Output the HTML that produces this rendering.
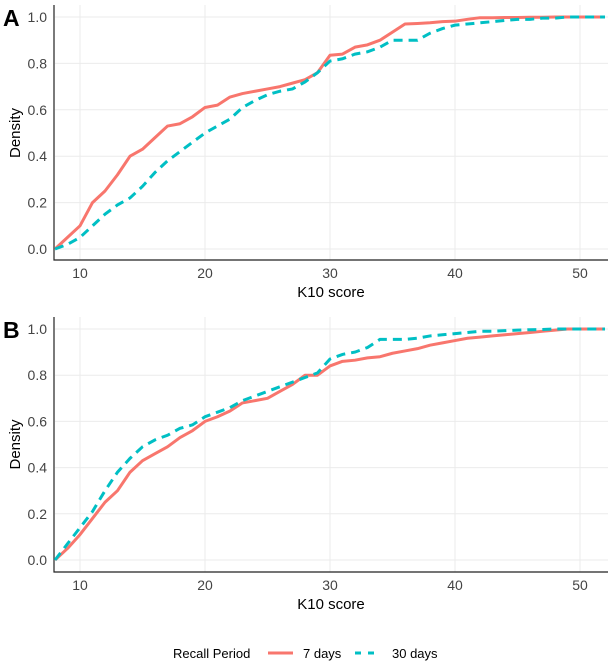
<!DOCTYPE html>
<html><head><meta charset="utf-8">
<style>
body{margin:0;background:#fff;}
svg{display:block;font-family:"Liberation Sans",Arial,sans-serif;}
</style></head>
<body>
<svg id="chart" width="614" height="667" viewBox="0 0 614 667"></svg>
<script>
const xs = [8,9,10,11,12,13,14,15,16,17,18,19,20,21,22,23,24,25,26,27,28,29,30,31,32,33,34,35,36,37,38,39,40,41,42,43,44,45,46,47,48,49,50,51,52];
const a7 = [0,0.05,0.10,0.20,0.25,0.32,0.40,0.43,0.48,0.53,0.54,0.57,0.61,0.62,0.655,0.67,0.68,0.69,0.70,0.715,0.73,0.76,0.835,0.84,0.87,0.88,0.90,0.935,0.97,0.972,0.975,0.98,0.982,0.99,0.997,0.997,0.998,0.998,0.999,0.999,1,1,1,1,1];
const a30 = [0,0.02,0.05,0.10,0.15,0.19,0.22,0.27,0.33,0.38,0.42,0.46,0.50,0.53,0.56,0.61,0.64,0.665,0.68,0.69,0.72,0.76,0.81,0.82,0.84,0.85,0.87,0.90,0.90,0.90,0.93,0.95,0.965,0.97,0.975,0.98,0.985,0.99,0.99,0.995,0.995,1,1,1,1];
const b7 = [0,0.05,0.11,0.18,0.25,0.30,0.38,0.43,0.46,0.49,0.53,0.56,0.60,0.62,0.645,0.68,0.69,0.70,0.73,0.76,0.80,0.80,0.84,0.86,0.865,0.875,0.88,0.895,0.905,0.915,0.93,0.94,0.95,0.96,0.965,0.97,0.975,0.98,0.985,0.99,0.995,1,1,1,1];
const b30 = [0,0.07,0.14,0.21,0.30,0.38,0.44,0.49,0.52,0.54,0.57,0.585,0.62,0.64,0.66,0.69,0.71,0.73,0.75,0.77,0.79,0.81,0.87,0.89,0.90,0.92,0.955,0.955,0.955,0.96,0.97,0.975,0.98,0.985,0.99,0.99,0.993,0.995,0.997,0.998,1,1,1,1,1];
const xTicks = [10,20,30,40,50];
const yTicks = [0,0.2,0.4,0.6,0.8,1.0];
const yTickLabels = ["0.0","0.2","0.4","0.6","0.8","1.0"];

const svg = document.getElementById('chart');
const NS = 'http://www.w3.org/2000/svg';
function mk(tag, attrs, parent){const e=document.createElementNS(NS,tag);for(const k in attrs)e.setAttribute(k,attrs[k]);(parent||svg).appendChild(e);return e;}
const sx = x => 55 + (x-8)*12.5;

function panel(letter, y0, y1, axisY, topY, s7, s30){
  const sy = v => y0 - v*(y0-y1);
  const g = mk('g',{});
  
  
  for(let i=0;i<yTicks.length;i++){
    const l=mk('line',{x1:55,x2:608,y1:sy(yTicks[i]),y2:sy(yTicks[i]),stroke:'#ebebeb','stroke-width':1},g);
    
    
    const t=mk('text',{x:47,y:sy(yTicks[i])+5,'text-anchor':'end','font-size':14,fill:'#444'},g);
    t.textContent=yTickLabels[i];
    
    
  }
  for(const xv of xTicks){
    const l=mk('line',{x1:sx(xv),x2:sx(xv),y1:topY,y2:axisY,stroke:'#ebebeb','stroke-width':1},g);
    
    
    const t=mk('text',{x:sx(xv),y:axisY+18,'text-anchor':'middle','font-size':14,fill:'#444'},g);
    t.textContent=xv;
    
    
  }
  const ax=mk('path',{d:`M54,${topY} V${axisY} H608`,fill:'none',stroke:'#222','stroke-width':1.2},g);
  
  
  const p7=mk('polyline',{points:xs.map((x,i)=>sx(x)+','+sy(s7[i])).join(' '),fill:'none',stroke:'#F8766D','stroke-width':3,'stroke-linejoin':'round'},g);
  
  
  const p30=mk('polyline',{points:xs.map((x,i)=>sx(x)+','+sy(s30[i])).join(' '),fill:'none',stroke:'#00BFC4','stroke-width':3,'stroke-dasharray':'9,6'},g);
  
  
  const yt=mk('text',{transform:`translate(20,${(y0+y1)/2}) rotate(-90)`,'text-anchor':'middle','font-size':15,fill:'#000'},g);
  yt.textContent='Density';
  
  
  const xt=mk('text',{x:331,y:axisY+37,'text-anchor':'middle','font-size':15,fill:'#000'},g);
  xt.textContent='K10 score';
  
  
  const pl=mk('text',{x:3,y:topY+21,'font-size':23,'font-weight':'bold',fill:'#000'},g);
  pl.textContent=letter;
  
  
}
panel('A',249,17,260,5,a7,a30);
panel('B',560,329,572,317,b7,b30);

const lg=mk('g',{});


const lt=mk('text',{x:173,y:658,'font-size':13,fill:'#000'},lg);
lt.textContent='Recall Period';


const k1=mk('line',{x1:268,x2:293,y1:653,y2:653,stroke:'#F8766D','stroke-width':3},lg);


const t1=mk('text',{x:303,y:658,'font-size':13,fill:'#000'},lg);
t1.textContent='7 days';


const k2=mk('line',{x1:355,x2:378,y1:653,y2:653,stroke:'#00BFC4','stroke-width':3,'stroke-dasharray':'6,7'},lg);


const t2=mk('text',{x:392,y:658,'font-size':13,fill:'#000'},lg);
t2.textContent='30 days';


</script>
</body></html>
